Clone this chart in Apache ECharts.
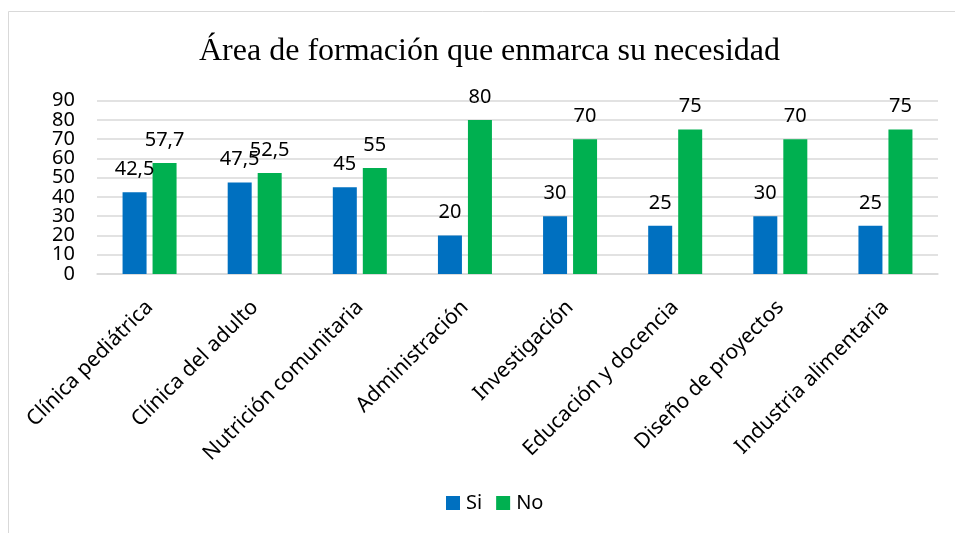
<!DOCTYPE html>
<html>
<head>
<meta charset="utf-8">
<script src="https://cdn.jsdelivr.net/npm/echarts@6/dist/echarts.min.js"></script>
<style>
    html, body { margin: 0; padding: 0; background: #fff; }
    #chart { width: 955px; height: 533px; }
</style>
</head>
<body>
<div id="chart"></div>
<script>
// categorías y valores (%)
const categorias = ['Clínica pediátrica', 'Clínica del adulto', 'Nutrición comunitaria', 'Administración',
    'Investigación', 'Educación y docencia', 'Diseño de proyectos', 'Industria alimentaria'];
const valoresSi = [42.5, 47.5, 45, 20, 30, 25, 30, 25];
const valoresNo = [57.7, 52.5, 55, 80, 70, 75, 70, 75];

const fuente = '"Noto Sans", sans-serif';

// etiqueta con coma decimal
const fmt = p => String(p.value).replace('.', ',');

// eje y: las etiquetas van muy juntas, se reparten en dos ejes (pares / impares)
const ejeY = (pares) => ({
    type: 'value',
    position: 'left',
    min: 0,
    max: 90,
    interval: 10,
    axisLine: { show: false },
    axisTick: { show: false },
    splitLine: { show: pares, lineStyle: { color: '#d9d9d9', width: 1.5 } },
    axisLabel: {
        margin: 22,
        fontFamily: fuente,
        fontSize: 20,
        color: '#000',
        showMinLabel: pares,
        showMaxLabel: !pares,
        hideOverlap: false,
        formatter: v => ((v / 10) % 2 === 0) === pares ? String(v) : ''
    }
});

const myChart = echarts.init(document.getElementById('chart'));

const option = {
    animation: false,
    backgroundColor: '#fff',
    title: {
        text: 'Área de formación que enmarca su necesidad',
        left: 194,
        top: 31,
        textStyle: { fontFamily: '"Liberation Serif", serif', fontSize: 32, fontWeight: 'normal', color: '#000' }
    },
    graphic: [{
        type: 'rect',
        shape: { x: 8.5, y: 11.5, width: 960, height: 540 },
        style: { fill: 'none', stroke: '#d9d9d9', lineWidth: 1 },
        silent: true
    }],
    legend: {
        bottom: 15,
        left: 441,
        itemWidth: 14,
        itemHeight: 14,
        itemGap: 14,
        icon: 'rect',
        textStyle: { fontFamily: fuente, fontSize: 20, color: '#000', padding: [0, 0, 0, 1] },
        data: ['Si', 'No']
    },
    grid: {
        left: 97,
        right: 17,
        top: 100.7,
        bottom: 259,
        containLabel: false
    },
    xAxis: {
        type: 'category',
        data: categorias,
        axisLine: { lineStyle: { color: '#d9d9d9', width: 1.5 } },
        axisTick: { show: false },
        axisLabel: {
            rotate: 45,
            interval: 0,
            margin: 30,
            fontFamily: fuente,
            fontSize: 21,
            color: '#000'
        }
    },
    yAxis: [ejeY(true), ejeY(false)],
    series: [
        {
            name: 'Si',
            type: 'bar',
            data: valoresSi,
            barWidth: 24,
            barGap: '25%',
            itemStyle: { color: '#0070C0' },
            label: { show: true, position: 'top', distance: 13, formatter: fmt, fontFamily: fuente, fontSize: 20, color: '#000' }
        },
        {
            name: 'No',
            type: 'bar',
            data: valoresNo,
            barWidth: 24,
            itemStyle: { color: '#00B050' },
            label: { show: true, position: 'top', distance: 13, formatter: fmt, fontFamily: fuente, fontSize: 20, color: '#000' }
        }
    ]
};

myChart.setOption(option);
</script>
</body>
</html>
